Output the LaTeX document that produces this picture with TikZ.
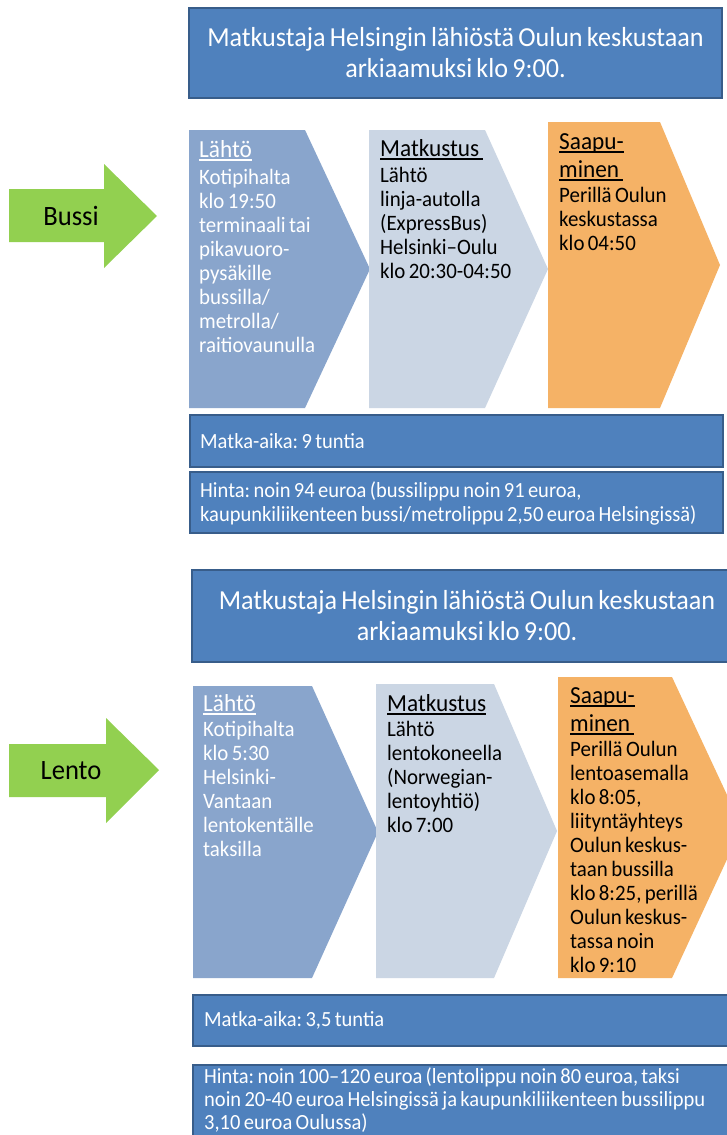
\documentclass[tikz,border=0pt]{standalone}
\usepackage{fontspec}
\setmainfont[FakeStretch=0.95,WordSpace=0.72]{Carlito}
\frenchspacing
\definecolor{tblue}{HTML}{4F81BD}
\definecolor{tborder}{HTML}{385D8A}
\definecolor{chA}{HTML}{89A5CC}
\definecolor{chB}{HTML}{CBD6E4}
\definecolor{chC}{HTML}{F5B266}
\definecolor{grn}{HTML}{92D050}
\newcommand\bfnt{\fontsize{22}{24}\selectfont}
\newcommand\ifnt{\fontsize{21.6}{24}\selectfont}
\newcommand\lfntb{\fontsize{21.6}{23.3}\selectfont}
\newcommand\hfnt{\fontsize{24.5}{24}\selectfont}
\newcommand\tfnt{\fontsize{27.5}{31}\selectfont}
\newcommand\lfnt{\fontsize{28}{30}\selectfont}
\newcommand\ulx[1]{\leavevmode\setbox0\hbox{#1}\rlap{\rule[-3.5pt]{\wd0}{1.8pt}}\box0}
\begin{document}
\begin{tikzpicture}[x=1pt,y=-1pt,
  bar/.style={fill=tblue,draw=tborder,line width=2pt},
  titlebar/.style={bar,text=white,align=center,font=\tfnt\frenchspacing,inner sep=0pt},
  infobar/.style={bar,anchor=north west,inner sep=0pt},
  infotext/.style={anchor=west,text=white,align=left,font=\ifnt\frenchspacing,inner sep=0pt},
  txt/.style={anchor=base west,inner sep=0pt},
  lbl/.style={font=\lfnt,inner sep=0pt,text=black}]
\clip (0,0) rectangle (727,1135);
\fill[white] (0,0) rectangle (727,1135);

% ---------- upper block: Bussi ----------
\node[titlebar,minimum width=533pt,minimum height=90pt] (title1) at (455.5,53)
  {Matkustaja Helsingin lähiöstä Oulun keskustaan\\arkiaamuksi klo 9:00.};

\fill[grn] (9,189) -- (104,189) -- (104,164) -- (157,216) -- (104,268) -- (104,242) -- (9,242) -- cycle;
\node[lbl] (bussi) at (71,216) {Bussi};

\fill[chA] (189,130) -- (305,130) -- (370,269) -- (305,408) -- (189,408) -- cycle;
\fill[chB] (369,130) -- (485,130) -- (548,269) -- (485,408) -- (369,408) -- cycle;
\fill[chC] (548,122) -- (660,122) -- (720,265) -- (660,408) -- (548,408) -- cycle;

\node[txt,text=white] (a1) at (199,157) {\parbox[t]{170pt}{\bfnt\frenchspacing\leavevmode{\hfnt\ulx{Lähtö}}\\[3pt]Kotipihalta\\klo 19:50\\terminaali tai\\pikavuoro-\\pysäkille\\bussilla/\\metrolla/\\raitiovaunulla}};
\node[txt] (b1) at (380,156) {\parbox[t]{170pt}{\bfnt\frenchspacing\leavevmode{\hfnt\ulx{Matkustus\ }}\\[2pt]Lähtö\\linja-autolla\\(ExpressBus)\\Helsinki–Oulu\\klo 20:30-04:50}};
\node[txt] (c1) at (559,149) {\parbox[t]{170pt}{\bfnt\frenchspacing\leavevmode{\hfnt\ulx{Saapu-}}\\[4pt]{\hfnt\ulx{minen\ }}\\[1pt]Perillä Oulun\\keskustassa\\klo 04:50}};

\node[infobar,minimum width=533pt,minimum height=52pt] (time1) at (189,414) {};
\node[infotext] (time1t) at ([xshift=11pt]time1.west) {Matka-aika: 9 tuntia};
\node[infobar,minimum width=533pt,minimum height=61pt] (price1) at (189,471) {};
\node[infotext] (price1t) at ([xshift=11pt,yshift=-1pt]price1.west)
  {Hinta: noin 94 euroa (bussilippu noin 91 euroa,\\kaupunkiliikenteen bussi/metrolippu 2,50 euroa Helsingissä)};

% ---------- lower block: Lento ----------
\node[titlebar,minimum width=550pt,minimum height=92pt] (title2) at (467,616)
  {Matkustaja Helsingin lähiöstä Oulun keskustaan\\arkiaamuksi klo 9:00.};

\fill[grn] (9,744) -- (106,744) -- (106,718) -- (159,770) -- (106,823) -- (106,797) -- (9,797) -- cycle;
\node[lbl] (lento) at (71,771) {Lento};

\fill[chA] (193,686) -- (312,686) -- (378,832) -- (312,978) -- (193,978) -- cycle;
\fill[chB] (376,684) -- (494,684) -- (557,831) -- (494,978) -- (376,978) -- cycle;
\fill[chC] (558,677) -- (672,677) -- (742,827) -- (672,978) -- (558,978) -- cycle;

\node[txt,text=white] (a2) at (203,711) {\parbox[t]{170pt}{\bfnt\frenchspacing\leavevmode{\hfnt\ulx{Lähtö}}\\[1pt]Kotipihalta\\klo 5:30\\Helsinki-\\Vantaan\\lentokentälle\\taksilla}};
\node[txt] (b2) at (387,711) {\parbox[t]{170pt}{\bfnt\frenchspacing\leavevmode{\hfnt\ulx{Matkustus}}\\[1pt]Lähtö\\lentokoneella\\(Norwegian-\\lentoyhtiö)\\klo 7:00}};
\node[txt] (c2) at (570,703) {\parbox[t]{170pt}{\bfnt\frenchspacing\leavevmode{\hfnt\ulx{Saapu-}}\\[4pt]{\hfnt\ulx{minen\ }}\\[1pt]Perillä Oulun\\lentoasemalla\\klo 8:05,\\liityntäyhteys\\Oulun keskus-\\taan bussilla\\klo 8:25, perillä\\Oulun keskus-\\tassa noin\\klo 9:10}};

\node[infobar,minimum width=553pt,minimum height=51pt] (time2) at (192,994) {};
\node[infotext] (time2t) at ([xshift=12pt]time2.west) {Matka-aika: 3,5 tuntia};
\node[infobar,minimum width=553pt,minimum height=80pt] (price2) at (192,1064) {};
\node[infotext,anchor=north west,font=\lfntb\frenchspacing] (price2t) at ([xshift=12pt,yshift=-3pt]price2.north west)
  {Hinta: noin 100–120 euroa (lentolippu noin 80 euroa, taksi\\noin 20-40 euroa Helsingissä ja kaupunkiliikenteen bussilippu\\3,10 euroa Oulussa)};
\end{tikzpicture}
\end{document}
